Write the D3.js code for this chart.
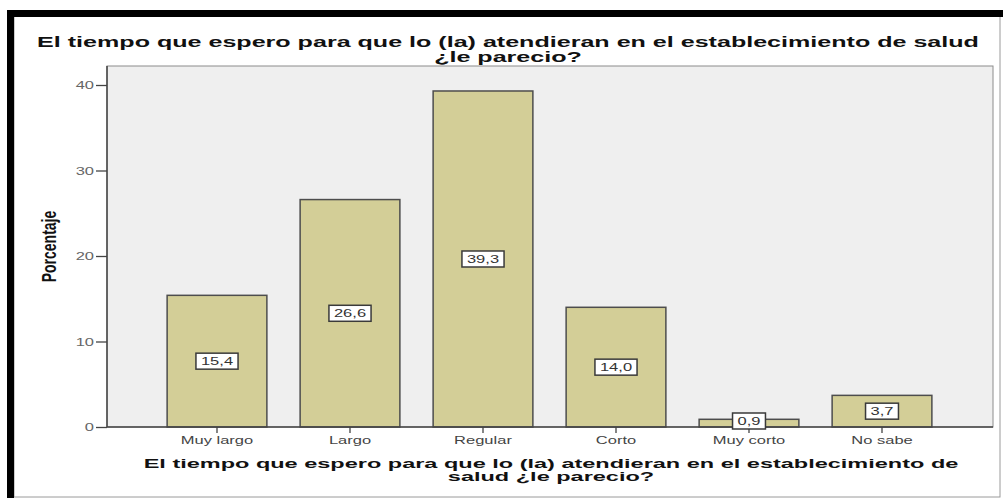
<!DOCTYPE html>
<html>
<head>
<meta charset="utf-8">
<script src="https://cdn.jsdelivr.net/npm/d3@7"></script>
<style>
  body { margin: 0; background: #fff; }
  text { font-family: "Liberation Sans", Arial, sans-serif; }
</style>
</head>
<body>
<script>
// data
var categories = ["Muy largo", "Largo", "Regular", "Corto", "Muy corto", "No sabe"];
var values = [15.4, 26.6, 39.3, 14.0, 0.9, 3.7];
var yTicks = [0, 10, 20, 30, 40];
var titleLines = ["El tiempo que espero para que lo (la) atendieran en el establecimiento de salud", "¿le parecio?"];
var xTitleLines = ["El tiempo que espero para que lo (la) atendieran en el establecimiento de", "salud ¿le parecio?"];
var yTitle = "Porcentaje";

window.onload = function(){
    drawChart();
};

// the original picture is stretched sideways, so text is too
var stretch = 1.5;

function stretchedText(parent, x, y, str, size, weight, fill, anchor){
    var g = parent.append("g")
        .attr("transform", "translate(" + x + "," + y + ") scale(" + stretch + ",1)");
    var t = g.append("text")
        .attr("text-anchor", anchor || "middle")
        .style("font-size", size + "px")
        .style("font-weight", weight || "normal")
        .attr("fill", fill || "#333")
        .text(str);
    return t;
}

// two centred lines scaled so that the first one fills a given width
function fittedLines(parent, cx, y0, lineGap, lines, size, width){
    var g = parent.append("g");
    var texts = lines.map(function(str, i){
        return g.append("text")
            .attr("text-anchor", "middle")
            .style("font-size", size + "px")
            .style("font-weight", "bold")
            .attr("fill", "#111")
            .attr("y", i * lineGap)
            .text(str);
    });
    var ratio = width / texts[0].node().getComputedTextLength();
    g.attr("transform", "translate(" + cx + "," + y0 + ") scale(" + ratio + ",1)");
}

function drawChart(){
    var svg = d3.select("body").append("svg").attr("width", 1003).attr("height", 498);

    // outer frame
    svg.append("rect").attr("x", 14).attr("y", 16).attr("width", 986).attr("height", 481)
        .attr("fill", "#fff").attr("stroke", "#9a9a9a").attr("stroke-width", 1);
    svg.append("rect").attr("x", 7).attr("y", 10).attr("width", 996).attr("height", 7).attr("fill", "#000");
    svg.append("rect").attr("x", 7).attr("y", 10).attr("width", 7).attr("height", 488).attr("fill", "#000");

    var plot = {left: 107, right: 993, top: 66, bottom: 427};

    var xScale = d3.scaleBand()
        .domain(categories)
        .range([150.5, 948.5])
        .paddingInner(0.25)
        .paddingOuter(0.125);

    var yScale = d3.scaleLinear()
        .domain([0, 40])
        .range([plot.bottom, 85]);

    // plot background
    svg.append("rect")
        .attr("x", plot.left).attr("y", plot.top)
        .attr("width", plot.right - plot.left).attr("height", plot.bottom - plot.top)
        .attr("fill", "#efefef").attr("stroke", "#8c8c8c").attr("stroke-width", 1);

    // bars
    svg.selectAll(".bar")
        .data(values)
        .enter()
        .append("rect")
        .attr("class", "bar")
        .attr("x", function(d, i){ return xScale(categories[i]); })
        .attr("y", function(d){ return yScale(d); })
        .attr("width", xScale.bandwidth())
        .attr("height", function(d){ return yScale(0) - yScale(d); })
        .attr("fill", "#d3ce97")
        .attr("stroke", "#4d4d4d")
        .attr("stroke-width", 1.5);

    // y axis
    var yAxis = svg.append("g")
        .attr("transform", "translate(" + plot.left + ",0)")
        .call(d3.axisLeft(yScale).tickValues(yTicks).tickSize(11).tickFormat(""));
    yAxis.select(".domain").remove();
    yAxis.selectAll("line").attr("stroke", "#444").attr("stroke-width", 1.3);
    svg.append("line")
        .attr("x1", plot.left).attr("x2", plot.left)
        .attr("y1", plot.top).attr("y2", plot.bottom)
        .attr("stroke", "#444").attr("stroke-width", 1.5);

    yTicks.forEach(function(t){
        stretchedText(svg, 94, yScale(t) + 4, String(t), 11, "normal", "#666", "end");
    });

    // x axis
    svg.append("line")
        .attr("x1", plot.left).attr("x2", plot.right)
        .attr("y1", plot.bottom).attr("y2", plot.bottom)
        .attr("stroke", "#444").attr("stroke-width", 1.5);
    var xAxis = svg.append("g")
        .attr("transform", "translate(0," + plot.bottom + ")")
        .call(d3.axisBottom(xScale).tickSize(6).tickFormat(""));
    xAxis.select(".domain").remove();
    xAxis.selectAll("line").attr("stroke", "#444").attr("stroke-width", 1.3);

    categories.forEach(function(c){
        stretchedText(svg, xScale(c) + xScale.bandwidth() / 2, 444, c, 11, "normal", "#444");
    });

    // value labels in boxes
    var fmt = d3.format(".1f");
    values.forEach(function(v, i){
        var cx = xScale(categories[i]) + xScale.bandwidth() / 2;
        var cy = Math.min(yScale(v / 2), yScale(0) - 6);
        var g = svg.append("g");
        var t = stretchedText(g, cx, cy + 4, fmt(v).replace(".", ","), 11, "normal", "#333");
        var w = t.node().getComputedTextLength() * stretch + 10;
        g.insert("rect", ":first-child")
            .attr("x", cx - w / 2).attr("y", cy - 8)
            .attr("width", w).attr("height", 16)
            .attr("fill", "#fff").attr("stroke", "#3a3a3a").attr("stroke-width", 1.5);
    });

    // titles
    fittedLines(svg, 508, 47, 15, titleLines, 15, 942);
    fittedLines(svg, 551, 468, 13, xTitleLines, 13, 815);

    // y axis title
    svg.append("g")
        .attr("transform", "translate(56," + ((plot.top + plot.bottom) / 2) + ") scale(" + stretch + ",1) rotate(-90)")
        .append("text")
        .attr("text-anchor", "middle")
        .style("font-size", "14px")
        .style("font-weight", "bold")
        .attr("fill", "#111")
        .text(yTitle);
}
</script>
</body>
</html>
